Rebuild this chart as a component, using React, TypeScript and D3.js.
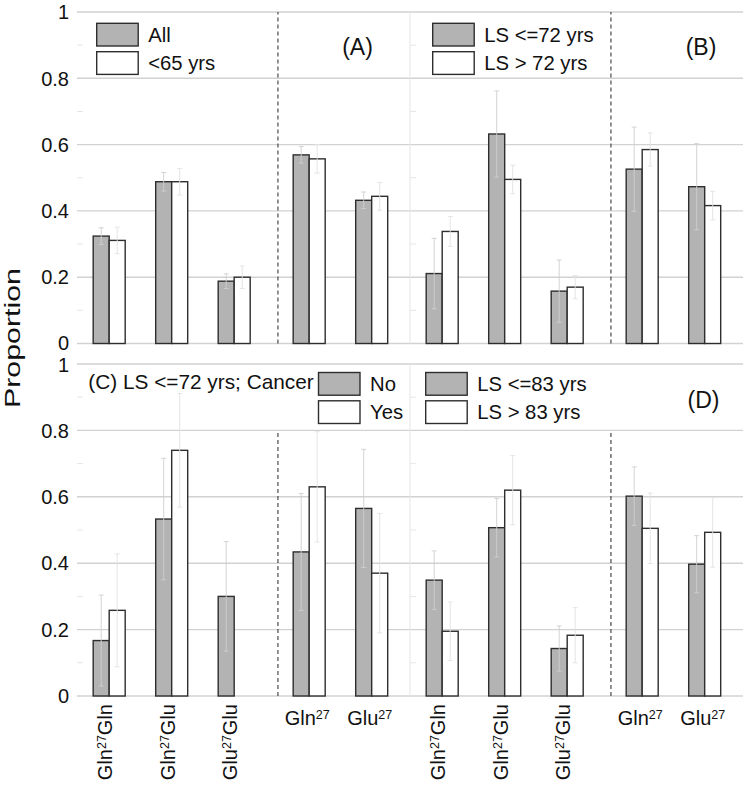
import React from "react";
import * as d3 from "d3";

// ---------- data ----------
const labelBase = ["Gln", "Gln", "Glu", "Gln", "Glu"];
const labelSup = ["27", "27", "27", "27", "27"];
const labelTail = ["Gln", "Glu", "Glu", "", ""];
const labelRotated = [true, true, true, false, false];

const yTicks = [0, 0.2, 0.4, 0.6, 0.8, 1];
const yTickLabels = ["0", "0.2", "0.4", "0.6", "0.8", "1"];
const minorTicks = [0.1, 0.3, 0.5, 0.7, 0.9];

// (A) All vs <65 yrs
const allValues = [0.324, 0.488, 0.188, 0.569, 0.432];
const under65Values = [0.311, 0.488, 0.2, 0.557, 0.444];
const allErr = [0.025, 0.028, 0.022, 0.025, 0.025];
const under65Err = [0.04, 0.04, 0.034, 0.043, 0.042];

// (B) LS <=72 vs > 72
const ls72LowValues = [0.211, 0.632, 0.158, 0.526, 0.473];
const ls72HighValues = [0.338, 0.495, 0.17, 0.585, 0.416];
const ls72LowErr = [0.106, 0.13, 0.094, 0.127, 0.13];
const ls72HighErr = [0.045, 0.043, 0.035, 0.05, 0.043];

// (C) LS <=72 yrs; Cancer No vs Yes
const cancerNoValues = [0.167, 0.533, 0.3, 0.434, 0.565];
const cancerYesValues = [0.258, 0.74, 0, 0.63, 0.37];
const cancerNoErr = [0.137, 0.183, 0.165, 0.176, 0.178];
const cancerYesErr = [0.17, 0.171, 0, 0.166, 0.18];

// (D) LS <=83 vs > 83
const ls83LowValues = [0.349, 0.507, 0.143, 0.602, 0.397];
const ls83HighValues = [0.195, 0.62, 0.183, 0.505, 0.493];
const ls83LowErr = [0.088, 0.088, 0.068, 0.088, 0.086];
const ls83HighErr = [0.088, 0.104, 0.083, 0.106, 0.105];

// ---------- layout ----------
const W = 747;
const H = 785;
const FONT = "'Liberation Sans', Arial, Helvetica, sans-serif";
const rows = [
  { y0: 343.5, y1: 12 },
  { y0: 696, y1: 364 },
];
const chartLeft = [77, 410];
const chartW = 333;
const plotRight = 743;
const catPos = [1, 2, 3, 4.2, 5.2];
const dividerPos = 3.7;
const xDomain = [0.485, 5.813];
const GRAY = "#b3b3b3";
const STROKE = "#2e2e2e";

type Panel = {
  row: number;
  col: number;
  s1: number[];
  s2: number[];
  e1: number[];
  e2: number[];
  legendX: number;
  legendY: [number, number];
  legendLabels: [string, string];
  tag?: { text: string; x: number; y: number };
  title?: { text: string; x: number; y: number };
  dividerTop: number;
};

const panels: Panel[] = [
  {
    row: 0, col: 0, s1: allValues, s2: under65Values, e1: allErr, e2: under65Err,
    legendX: 96.7, legendY: [23.3, 51.7], legendLabels: ["All", "<65 yrs"],
    tag: { text: "(A)", x: 357.5, y: 55 }, dividerTop: 1,
  },
  {
    row: 0, col: 1, s1: ls72LowValues, s2: ls72HighValues, e1: ls72LowErr, e2: ls72HighErr,
    legendX: 432.7, legendY: [23.3, 51.7], legendLabels: ["LS <=72 yrs", "LS > 72 yrs"],
    tag: { text: "(B)", x: 701, y: 55 }, dividerTop: 1,
  },
  {
    row: 1, col: 0, s1: cancerNoValues, s2: cancerYesValues, e1: cancerNoErr, e2: cancerYesErr,
    legendX: 318.5, legendY: [372.5, 400.8], legendLabels: ["No", "Yes"],
    title: { text: "(C) LS <=72 yrs; Cancer", x: 88.3, y: 388.5 }, dividerTop: 0.8,
  },
  {
    row: 1, col: 1, s1: ls83LowValues, s2: ls83HighValues, e1: ls83LowErr, e2: ls83HighErr,
    legendX: 425.7, legendY: [372.5, 400.8], legendLabels: ["LS <=83 yrs", "LS > 83 yrs"],
    tag: { text: "(D)", x: 703.5, y: 407.5 }, dividerTop: 0.8,
  },
];

function PanelView({ p }: { p: Panel }) {
  const x = d3.scaleLinear().domain(xDomain).range([chartLeft[p.col], chartLeft[p.col] + chartW]);
  const y = d3.scaleLinear().domain([0, 1]).range([rows[p.row].y0, rows[p.row].y1]);
  const barW = x(0.256) - x(0);
  const boxW = 41.5;
  const boxH = 22.7;

  const bars: any[] = [];
  const errs: any[] = [];
  catPos.forEach((c, i) => {
    const cx = x(c);
    [
      { v: p.s1[i], e: p.e1[i], x0: cx - barW, fill: GRAY },
      { v: p.s2[i], e: p.e2[i], x0: cx, fill: "#ffffff" },
    ].forEach((b, k) => {
      if (b.v <= 0) return;
      bars.push(
        <rect key={`b${i}-${k}`} x={b.x0} y={y(b.v)} width={barW} height={y(0) - y(b.v)}
          fill={b.fill} stroke={STROKE} strokeWidth={1.4} />
      );
      if (b.e > 0) {
        const ex = b.x0 + barW / 2;
        const lo = y(Math.max(0, b.v - b.e));
        const hi = y(b.v + b.e);
        errs.push(
          <g key={`e${i}-${k}`} stroke={k === 0 ? "#cfcfcf" : "#e2e2e2"} strokeWidth={0.9}>
            <line x1={ex} x2={ex} y1={lo} y2={hi} />
            <line x1={ex - 2.5} x2={ex + 2.5} y1={hi} y2={hi} />
            <line x1={ex - 2.5} x2={ex + 2.5} y1={lo} y2={lo} />
          </g>
        );
      }
    });
  });

  return (
    <g>
      {/* minor ticks */}
      {minorTicks.map((t) => (
        <line key={`m${t}`} x1={chartLeft[p.col]} x2={chartLeft[p.col] + 6} y1={y(t)} y2={y(t)}
          stroke="#e6e6e6" strokeWidth={1} />
      ))}
      {/* divider */}
      <line x1={x(dividerPos)} x2={x(dividerPos)} y1={y(0)} y2={y(p.dividerTop)}
        stroke="#3a3a3a" strokeWidth={1.1} strokeDasharray="4,3" />
      {bars}
      {errs}
      {/* legend */}
      <rect x={p.legendX} y={p.legendY[0]} width={boxW} height={boxH} fill={GRAY} stroke={STROKE} strokeWidth={1.4} />
      <rect x={p.legendX} y={p.legendY[1]} width={boxW} height={boxH} fill="#ffffff" stroke={STROKE} strokeWidth={1.4} />
      {p.legendLabels.map((l, k) => (
        <text key={`l${k}`} x={p.legendX + boxW + 10} y={p.legendY[k] + boxH / 2 + 7.3}
          fontSize={20.3} fill="#111">{l}</text>
      ))}
      {p.tag && (
        <text x={p.tag.x} y={p.tag.y} fontSize={23} textAnchor="middle" fill="#111">{p.tag.text}</text>
      )}
      {p.title && (
        <text x={p.title.x} y={p.title.y} fontSize={20.8} fill="#111">{p.title.text}</text>
      )}
      {/* x labels (only bottom row) */}
      {p.row === 1 &&
        catPos.map((c, i) => {
          const cx = x(c);
          if (labelRotated[i]) {
            return (
              <text key={`x${i}`} transform={`translate(${cx + 3},704) rotate(-90)`} textAnchor="end"
                fontSize={20} fill="#111">
                {labelBase[i]}
                <tspan fontSize={12.5} dy={-6}>{labelSup[i]}</tspan>
                <tspan dy={6}>{labelTail[i]}</tspan>
              </text>
            );
          }
          return (
            <text key={`x${i}`} x={cx - 2} y={725} textAnchor="middle" fontSize={20} fill="#111">
              {labelBase[i]}
              <tspan fontSize={12.5} dy={-6}>{labelSup[i]}</tspan>
            </text>
          );
        })}
    </g>
  );
}

export default function App() {
  return (
    <svg width={W} height={H} style={{ position: "absolute", left: 0, top: 0, background: "#fff" }}
      fontFamily={FONT}>
      <rect x={0} y={0} width={W} height={H} fill="#ffffff" />
      {rows.map((r, ri) => {
        const y = d3.scaleLinear().domain([0, 1]).range([r.y0, r.y1]);
        return (
          <g key={`row${ri}`}>
            {yTicks.map((t) => (
              <line key={`g${t}`} x1={chartLeft[0]} x2={plotRight} y1={y(t)} y2={y(t)}
                stroke="#d2d2d2" strokeWidth={1.4} />
            ))}
            <line x1={chartLeft[1]} x2={chartLeft[1]} y1={y(0)} y2={y(1)} stroke="#e6e6e6" strokeWidth={1} />
            {yTicks.map((t, i) => {
              let dy = 7.2;
              if (ri === 0 && t === 0) dy = 6.5;
              if (ri === 1 && t === 1) dy = 8;
              return (
                <text key={`t${t}`} x={69} y={y(t) + dy}
                  textAnchor="end" fontSize={20} fill="#111">{yTickLabels[i]}</text>
              );
            })}
          </g>
        );
      })}
      {panels.map((p, i) => (
        <PanelView key={i} p={p} />
      ))}
      <text transform="translate(20,338) rotate(-90)" textAnchor="middle" fontSize={22.5}
        textLength={140} lengthAdjust="spacingAndGlyphs" fill="#111">Proportion</text>
    </svg>
  );
}
